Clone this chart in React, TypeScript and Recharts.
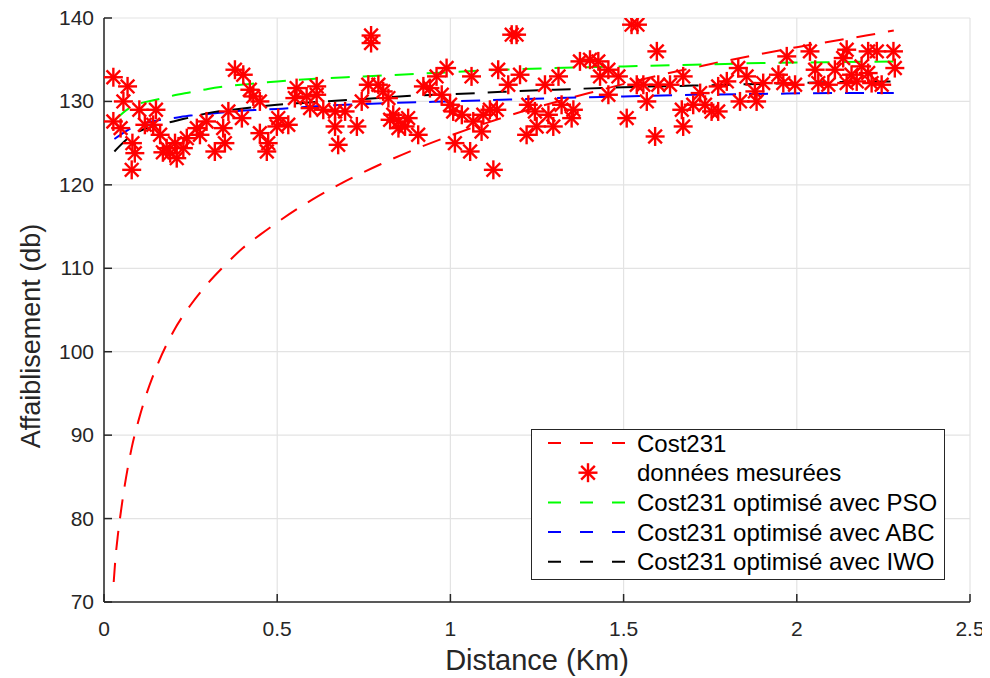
import { ComposedChart, Line, Scatter, XAxis, YAxis, CartesianGrid } from "recharts";

const FONT = "'Liberation Sans', Arial, Helvetica, sans-serif";
const INK = "#262626";

const xTicks = [0, 0.5, 1, 1.5, 2, 2.5];
const yTicks = [70, 80, 90, 100, 110, 120, 130, 140];

// Cost231 (modèle brut)
const costDist = [0.028, 0.033, 0.04, 0.05, 0.06, 0.07, 0.08, 0.1, 0.12, 0.15, 0.2, 0.25, 0.3, 0.35, 0.4, 0.45, 0.5, 0.6, 0.7, 0.8, 0.9, 1.0, 1.2, 1.4, 1.6, 1.8, 2.0, 2.2, 2.28];
const costLoss = [72.4, 75.2, 78.0, 81.2, 84.0, 86.4, 88.5, 91.8, 94.6, 98.0, 102.4, 105.6, 108.2, 110.4, 112.4, 114.0, 115.5, 118.2, 120.5, 122.5, 124.3, 125.9, 128.7, 131.0, 133.1, 134.9, 136.5, 137.9, 138.5];

// modèles optimisés
const optDist = [0.03, 0.07, 0.1, 0.15, 0.2, 0.25, 0.3, 0.37, 0.45, 0.5, 0.6, 0.75, 0.9, 1.0, 1.15, 1.3, 1.5, 1.7, 1.9, 2.1, 2.28];
const psoLoss = [127.7, 129.1, 129.7, 130.2, 130.7, 131.1, 131.5, 131.9, 132.2, 132.4, 132.7, 133.0, 133.3, 133.5, 133.8, 134.0, 134.2, 134.4, 134.6, 134.7, 134.8];
const abcLoss = [125.5, 126.6, 127.2, 127.7, 128.0, 128.3, 128.5, 128.8, 129.0, 129.1, 129.4, 129.7, 129.9, 130.0, 130.2, 130.4, 130.6, 130.8, 130.9, 131.0, 131.0];
const iwoLoss = [124.0, 125.6, 126.4, 127.1, 127.6, 128.1, 128.6, 129.0, 129.4, 129.6, 129.9, 130.3, 130.7, 130.85, 131.15, 131.4, 131.7, 131.9, 132.1, 132.3, 132.4];

// données mesurées
const measDist = [
  0.027, 0.068, 0.056, 0.027, 0.048, 0.082, 0.089, 0.08, 0.102, 0.15, 0.118, 0.142, 0.162, 0.181, 0.17, 0.191, 0.205, 0.21, 0.229, 0.239,
  0.268, 0.277, 0.296, 0.32, 0.344, 0.349, 0.359, 0.378, 0.402, 0.421, 0.431, 0.45, 0.398, 0.45, 0.474, 0.47, 0.503, 0.499, 0.532, 0.556,
  0.551, 0.585, 0.614, 0.614, 0.595, 0.633, 0.667, 0.676, 0.667, 0.696, 0.73, 0.744, 0.771, 0.771, 0.763, 0.792, 0.806, 0.821, 0.835, 0.826,
  0.85, 0.869, 0.878, 0.85, 0.907, 0.922, 0.941, 0.96, 0.989, 0.975, 0.999, 1.008, 1.013, 1.033, 1.057, 1.061, 1.066, 1.09, 1.095, 1.114,
  1.134, 1.138, 1.124, 1.177, 1.191, 1.167, 1.201, 1.225, 1.244, 1.22, 1.249, 1.273, 1.283, 1.297, 1.312, 1.321, 1.35, 1.355, 1.374, 1.403,
  1.427, 1.432, 1.456, 1.456, 1.485, 1.509, 1.523, 1.54, 1.538, 1.596, 1.557, 1.567, 1.6, 1.634, 1.672, 1.668, 1.672, 1.591, 1.701, 1.721,
  1.735, 1.754, 1.773, 1.773, 1.798, 1.831, 1.855, 1.836, 1.884, 1.879, 1.903, 1.971, 2.038, 1.947, 1.961, 1.995, 2.053, 2.062, 2.091, 2.11,
  2.144, 2.134, 2.158, 2.144, 2.173, 2.187, 2.206, 2.231, 2.279, 2.283, 2.216, 2.245, 2.206,
];
const measLoss = [
  132.9, 131.8, 130.0, 127.6, 126.8, 125.0, 123.8, 121.8, 129.0, 129.0, 127.2, 127.2, 126.0, 124.4, 123.9, 123.8, 125.0, 123.2, 124.4, 125.6,
  126.8, 126.0, 127.6, 124.0, 126.8, 125.0, 128.8, 133.8, 133.2, 131.4, 130.6, 130.0, 128.0, 126.2, 125.0, 124.0, 128.0, 127.0, 127.2, 131.6,
  130.4, 130.6, 131.8, 130.8, 129.2, 129.0, 127.0, 124.8, 128.8, 128.8, 127.0, 130.0, 137.9, 137.0, 132.0, 132.0, 131.2, 130.4, 128.4, 127.8,
  127.6, 127.0, 128.0, 126.8, 126.0, 131.8, 131.6, 133.0, 134.0, 130.8, 129.6, 128.8, 125.0, 128.4, 124.0, 133.0, 127.6, 126.4, 128.4, 129.0,
  129.0, 133.8, 121.8, 138.0, 138.0, 132.0, 133.2, 129.6, 128.8, 126.0, 127.0, 132.0, 128.4, 127.0, 133.0, 129.6, 128.0, 129.0, 134.8, 135.0,
  134.8, 133.0, 133.8, 130.8, 133.0, 128.0, 139.2, 139.2, 132.0, 136.0, 132.0, 130.0, 132.0, 132.0, 133.0, 129.0, 127.0, 125.8, 129.6, 131.0,
  129.6, 128.8, 128.8, 131.8, 132.4, 134.0, 133.0, 130.0, 130.0, 131.2, 132.2, 135.4, 136.0, 133.2, 132.2, 132.0, 133.8, 132.2, 132.0, 133.8,
  136.2, 135.2, 133.2, 132.2, 132.4, 134.2, 136.0, 136.0, 136.0, 134.0, 132.2, 132.0, 133.4,
];

const seriesNames = ["Cost231", "données mesurées", "Cost231 optimisé avec PSO", "Cost231 optimisé avec ABC", "Cost231 optimisé avec IWO"];
const seriesColors = ["#ff0000", "#ff0000", "#00ff00", "#0000ff", "#000000"];

const pairs = (xs: number[], ys: number[]) => xs.map((d, i) => ({ d, v: ys[i] }));

const Star = (props: any) => {
  const { cx, cy } = props;
  if (cx == null || cy == null) return null;
  const r = 9.5;
  const k = r * 0.72;
  return (
    <g stroke="#ff0000" strokeWidth={2.4}>
      <line x1={cx - r} y1={cy} x2={cx + r} y2={cy} />
      <line x1={cx} y1={cy - r} x2={cx} y2={cy + r} />
      <line x1={cx - k} y1={cy - k} x2={cx + k} y2={cy + k} />
      <line x1={cx - k} y1={cy + k} x2={cx + k} y2={cy - k} />
    </g>
  );
};

const BottomTick = (p: any) => (
  <g>
    <line x1={p.x} y1={p.y} x2={p.x} y2={p.y - 8} stroke={INK} strokeWidth={1.5} />
    <text x={p.x} y={p.y + 34} textAnchor="middle" fontSize={21} fill={INK} fontFamily={FONT}>
      {String(p.payload.value)}
    </text>
  </g>
);

const TopTick = (p: any) => (
  <line x1={p.x} y1={p.y} x2={p.x} y2={p.y + 8} stroke={INK} strokeWidth={1.5} />
);

const LeftTick = (p: any) => (
  <g>
    <line x1={p.x} y1={p.y} x2={p.x + 8} y2={p.y} stroke={INK} strokeWidth={1.5} />
    <text x={p.x - 10} y={p.y + 7} textAnchor="end" fontSize={21} fill={INK} fontFamily={FONT}>
      {p.payload.value}
    </text>
  </g>
);

const RightTick = (p: any) => (
  <line x1={p.x} y1={p.y} x2={p.x - 8} y2={p.y} stroke={INK} strokeWidth={1.5} />
);

const LegendBox = () => (
  <div
    style={{
      position: "absolute",
      left: 523,
      top: 421,
      width: 414,
      height: 151,
      boxSizing: "border-box",
      border: `1.5px solid ${INK}`,
      background: "#fff",
    }}
  >
    <svg width={411} height={148}>
      {seriesNames.map((name, i) => {
        const y = 13 + i * 29.7;
        return (
          <g key={name}>
            {i === 1 ? (
              <Star cx={56} cy={y} />
            ) : (
              <line x1={16} y1={y} x2={96} y2={y} stroke={seriesColors[i]} strokeWidth={2} strokeDasharray="13 19" />
            )}
            <text x={105} y={y + 8.5} fontSize={24} fill="#000" fontFamily={FONT}>
              {name}
            </text>
          </g>
        );
      })}
    </svg>
  </div>
);

export default function App() {
  return (
    <div style={{ position: "relative", width: 982, height: 670, fontFamily: FONT }}>
      <ComposedChart width={982} height={670} margin={{ top: 10, right: 20, bottom: 0, left: 0 }}>
        <CartesianGrid stroke="#e3e3e3" strokeWidth={1.2} />
        <XAxis
          dataKey="d"
          type="number"
          domain={[0, 2.5]}
          ticks={xTicks}
          height={76}
          tickSize={0}
          tickMargin={0}
          tickLine={false}
          tick={BottomTick}
          axisLine={{ stroke: INK, strokeWidth: 1.5 }}
          label={{
            content: (lp: any) => {
              const vb = lp.viewBox;
              return (
                <text x={vb.x + vb.width / 2} y={vb.y + 68} textAnchor="middle" fontSize={29} fill={INK} fontFamily={FONT}>
                  Distance (Km)
                </text>
              );
            },
          }}
        />
        <XAxis
          xAxisId="top"
          orientation="top"
          dataKey="d"
          type="number"
          domain={[0, 2.5]}
          ticks={xTicks}
          height={0}
          tickSize={0}
          tickMargin={0}
          tickLine={false}
          tick={TopTick}
          axisLine={{ stroke: INK, strokeWidth: 1.5 }}
        />
        <YAxis
          dataKey="v"
          type="number"
          domain={[70, 140]}
          ticks={yTicks}
          width={96}
          tickSize={0}
          tickMargin={0}
          tickLine={false}
          tick={LeftTick}
          allowDataOverflow
          axisLine={{ stroke: INK, strokeWidth: 1.5 }}
          label={{
            content: (lp: any) => {
              const vb = lp.viewBox;
              const cx = vb.x + 23;
              const cy = vb.y + vb.height / 2 + 26;
              return (
                <text x={cx} y={cy} transform={`rotate(-90 ${cx} ${cy})`} textAnchor="middle" dominantBaseline="central" fontSize={27} fill={INK} fontFamily={FONT}>
                  Affaiblisement (db)
                </text>
              );
            },
          }}
        />
        <YAxis
          yAxisId="right"
          orientation="right"
          dataKey="v"
          type="number"
          domain={[70, 140]}
          ticks={yTicks}
          width={0}
          tickSize={0}
          tickMargin={0}
          tickLine={false}
          tick={RightTick}
          axisLine={{ stroke: INK, strokeWidth: 1.5 }}
        />
        <Line type="monotone" data={pairs(costDist, costLoss)} dataKey="v" name={seriesNames[0]} stroke={seriesColors[0]} strokeWidth={2} strokeDasharray="19 13" dot={false} activeDot={false} isAnimationActive={false} />
        <Scatter data={pairs(measDist, measLoss)} dataKey="v" name={seriesNames[1]} shape={Star} isAnimationActive={false} />
        <Line type="monotone" data={pairs(optDist, psoLoss)} dataKey="v" name={seriesNames[2]} stroke={seriesColors[2]} strokeWidth={2} strokeDasharray="19 13" dot={false} activeDot={false} isAnimationActive={false} />
        <Line type="monotone" data={pairs(optDist, abcLoss)} dataKey="v" name={seriesNames[3]} stroke={seriesColors[3]} strokeWidth={2} strokeDasharray="19 13" dot={false} activeDot={false} isAnimationActive={false} />
        <Line type="monotone" data={pairs(optDist, iwoLoss)} dataKey="v" name={seriesNames[4]} stroke={seriesColors[4]} strokeWidth={2} strokeDasharray="19 13" dot={false} activeDot={false} isAnimationActive={false} />
      </ComposedChart>
      <LegendBox />
    </div>
  );
}
